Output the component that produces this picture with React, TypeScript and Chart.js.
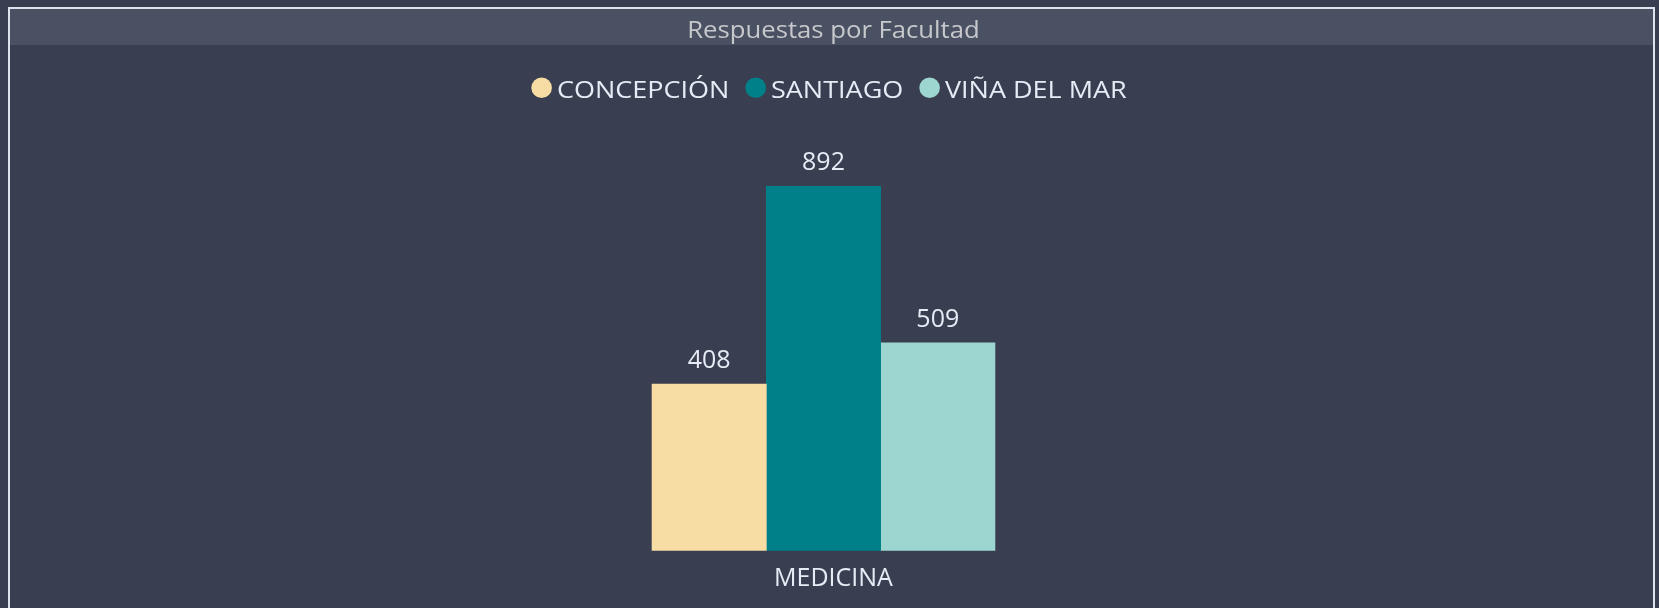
import React, { useEffect, useRef } from "react";
import { Chart, registerables } from "chart.js";

Chart.register(...registerables);

const chartTitle = "Respuestas por Facultad";
const categories = ["MEDICINA"];
const seriesNames = ["CONCEPCIÓN", "SANTIAGO", "VIÑA DEL MAR"];
const concepcionValues = [408];
const santiagoValues = [892];
const vinaValues = [509];
const seriesColors = ["#F7DDA4", "#008089", "#9DD6D0"];
const yTicksMax = 1000;

const FONT = "'Open Sans', 'Noto Sans', sans-serif";
const BG = "#393F51";
const BAR_BG = "#4A5162";
const TEXT = "#E6ECF5";

const headerPlugin = {
  id: "header",
  beforeDraw(chart: any) {
    const ctx = chart.ctx as CanvasRenderingContext2D;
    const W = chart.width;
    const H = chart.height;
    ctx.save();
    ctx.fillStyle = BG;
    ctx.fillRect(0, 0, W, H);
    // title bar
    ctx.fillStyle = BAR_BG;
    ctx.fillRect(10, 9, 1643, 36);
    // frame
    ctx.strokeStyle = "#DCE4EE";
    ctx.lineWidth = 2;
    ctx.strokeRect(9, 8, 1645, 640);
    // title text
    ctx.font = `24px ${FONT}`;
    ctx.fillStyle = "#C6C8CC";
    ctx.textBaseline = "alphabetic";
    ctx.textAlign = "left";
    const tsx = 1.07;
    const tw = ctx.measureText(chartTitle).width * tsx;
    ctx.save();
    ctx.translate(833.5 - tw / 2, 37.7);
    ctx.scale(tsx, 1);
    ctx.fillText(chartTitle, 0, 0);
    ctx.restore();

    // legend
    const lsx = 1.125;
    const r = 10.3;
    const gapCT = 5;
    const gapItems = 16;
    ctx.font = `24px ${FONT}`;
    const items = chart.data.datasets.map((d: any) => ({
      label: d.label as string,
      color: d.backgroundColor as string,
      w: ctx.measureText(d.label).width * lsx,
    }));
    let total = 0;
    items.forEach((it: any, i: number) => {
      total += 2 * r + gapCT + it.w + (i < items.length - 1 ? gapItems : 0);
    });
    let x = 829 - total / 2;
    const cy = 87.7;
    items.forEach((it: any) => {
      ctx.beginPath();
      ctx.fillStyle = it.color;
      ctx.arc(x + r, cy, r, 0, Math.PI * 2);
      ctx.fill();
      x += 2 * r + gapCT;
      ctx.save();
      ctx.translate(x, 97.5);
      ctx.scale(lsx, 1);
      ctx.fillStyle = TEXT;
      ctx.fillText(it.label, 0, 0);
      ctx.restore();
      x += it.w + gapItems;
    });
    ctx.restore();
  },
};

const valueLabelPlugin = {
  id: "valueLabels",
  afterDatasetsDraw(chart: any) {
    const ctx = chart.ctx as CanvasRenderingContext2D;
    ctx.save();
    ctx.font = `25px ${FONT}`;
    ctx.fillStyle = TEXT;
    ctx.textAlign = "center";
    ctx.textBaseline = "alphabetic";
    chart.data.datasets.forEach((ds: any, i: number) => {
      const meta = chart.getDatasetMeta(i);
      meta.data.forEach((el: any, j: number) => {
        ctx.fillText(String(ds.data[j]), el.x, el.y - 16);
      });
    });
    ctx.restore();
  },
};

export default function App() {
  const ref = useRef<HTMLCanvasElement | null>(null);
  useEffect(() => {
    if (!ref.current) return;
    const values = [concepcionValues, santiagoValues, vinaValues];
    const chart = new Chart(ref.current, {
      type: "bar",
      data: {
        labels: categories,
        datasets: seriesNames.map((name, i) => ({
          label: name,
          data: values[i],
          backgroundColor: seriesColors[i],
          borderWidth: 0,
          barThickness: 114.3,
        })),
      },
      options: {
        responsive: false,
        devicePixelRatio: 1,
        animation: false,
        layout: { padding: { top: 142.2, left: 20, right: 32, bottom: 1.2 } },
        plugins: {
          legend: { display: false },
          title: { display: false },
          tooltip: { enabled: false },
        },
        scales: {
          x: {
            type: "category",
            offset: true,
            grid: { display: false, drawTicks: false },
            border: { display: false },
            ticks: {
              color: TEXT,
              font: { family: FONT, size: 25 },
              padding: 13,
              labelOffset: 10,
            },
          },
          y: {
            display: false,
            min: 0,
            max: yTicksMax,
          },
        },
      },
      plugins: [headerPlugin, valueLabelPlugin],
    });
    return () => chart.destroy();
  }, []);
  return (
    <div style={{ position: "fixed", left: 0, top: 0, width: 1659, height: 608, background: BG }}>
      <canvas ref={ref} width={1659} height={608} style={{ display: "block" }} />
    </div>
  );
}
